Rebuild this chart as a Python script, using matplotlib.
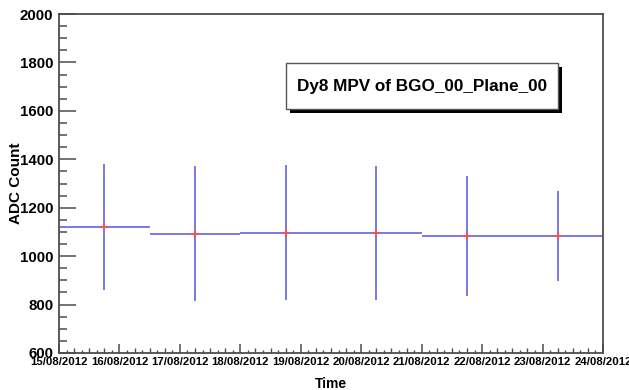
import matplotlib
matplotlib.use("Agg")
import matplotlib.pyplot as plt
import matplotlib.dates as mdates
from matplotlib.patches import Rectangle
import numpy as np
import pandas as pd

# Dy8 most-probable-value per time bin (bin centres, 36 h bins)
bin_centres = ["2012-08-15 18:00", "2012-08-17 06:00", "2012-08-18 18:00",
               "2012-08-20 06:00", "2012-08-21 18:00", "2012-08-23 06:00"]
bin_half_width_hours = 18
mpv_values = [1121, 1093, 1097, 1097, 1084, 1083]
mpv_errors = [260, 278, 278, 277, 247, 184]

x_start = "2012-08-15 00:00"
x_end = "2012-08-24 00:00"
y_min, y_max = 600, 2000
title_text = "Dy8 MPV of BGO_00_Plane_00"
x_title = "Time"
y_title = "ADC Count"

FONT = "Liberation Sans"
plt.rcParams["font.family"] = [FONT, "DejaVu Sans"]

W, H = 629, 390
fig = plt.figure(figsize=(W / 100, H / 100), dpi=100)
fig.patch.set_facecolor("white")

ax = fig.add_axes([59 / W, 1 - 353 / H, (603 - 59) / W, (353 - 14) / H])

centres = mdates.date2num(pd.to_datetime(bin_centres))
half_w = bin_half_width_hours / 24.0
xerr = np.full(len(centres), half_w)

line_col = "#6e6ee0"
ax.errorbar(centres, mpv_values, yerr=mpv_errors, xerr=xerr, fmt="none",
            ecolor=line_col, elinewidth=1.3, capsize=0, zorder=2)
ax.plot(centres, mpv_values, linestyle="none", marker="+", markersize=6,
        markeredgewidth=1.1, color="#ff4d4d", zorder=3)

ax.set_xlim(mdates.date2num(pd.Timestamp(x_start)), mdates.date2num(pd.Timestamp(x_end)))
ax.set_ylim(y_min, y_max)

# frame
frame_col = "#4d4d4d"
for side in ["left", "right", "top", "bottom"]:
    ax.spines[side].set_color(frame_col)
    ax.spines[side].set_linewidth(1.3)

# y axis ticks
ax.yaxis.set_major_locator(matplotlib.ticker.MultipleLocator(200))
ax.yaxis.set_minor_locator(matplotlib.ticker.MultipleLocator(50))
ax.tick_params(axis="y", which="major", direction="in", length=12.2, width=1.1,
               color=frame_col, pad=4, labelsize=10.8)
ax.tick_params(axis="y", which="minor", direction="in", length=6.1, width=1.1,
               color=frame_col)

# x axis: daily labels, 6-hourly and 3-hourly subdivisions
ax.xaxis.set_major_locator(mdates.DayLocator())
ax.xaxis.set_major_formatter(mdates.DateFormatter("%d/%m/%Y"))
ax.xaxis.set_minor_locator(mdates.HourLocator(byhour=[6, 12, 18]))
ax.tick_params(axis="x", which="major", direction="in", length=6.8, width=1.1,
               color=frame_col, pad=3, labelsize=8.2)
ax.tick_params(axis="x", which="minor", direction="in", length=3.6, width=1.0,
               color=frame_col)

sec = ax.secondary_xaxis("bottom")
sec.xaxis.set_major_locator(mdates.HourLocator(byhour=[3, 9, 15, 21]))
sec.xaxis.set_major_formatter(matplotlib.ticker.NullFormatter())
sec.tick_params(axis="x", which="major", direction="in", length=2.2, width=1.0,
                color=frame_col)
sec.xaxis.set_minor_locator(matplotlib.ticker.NullLocator())
sec.spines["bottom"].set_visible(False)

for lab in ax.get_xticklabels() + ax.get_yticklabels():
    lab.set_fontweight("bold")

ax.set_xlabel(x_title, fontsize=10, fontweight="bold")
ax.xaxis.set_label_coords(0.5, -0.072)
ax.set_ylabel(y_title, fontsize=11, fontweight="bold")
ax.yaxis.set_label_coords(-0.066, 0.5)

# title box with drop shadow
bx0, by0, bx1, by1 = 286, 63, 558, 109
sh = 4
fig.patches.append(Rectangle(((bx0 + sh) / W, 1 - (by1 + sh) / H),
                             (bx1 - bx0) / W, (by1 - by0) / H,
                             transform=fig.transFigure, facecolor="black",
                             edgecolor="none", zorder=5))
fig.patches.append(Rectangle((bx0 / W, 1 - by1 / H), (bx1 - bx0) / W, (by1 - by0) / H,
                             transform=fig.transFigure, facecolor="white",
                             edgecolor="#555555", linewidth=1.0, zorder=6))
fig.text((bx0 + bx1) / 2 / W, 1 - (by0 + by1) / 2 / H, title_text,
         ha="center", va="center", fontsize=12.3, fontweight="bold", zorder=7)

fig.savefig("out.png", dpi=100)
